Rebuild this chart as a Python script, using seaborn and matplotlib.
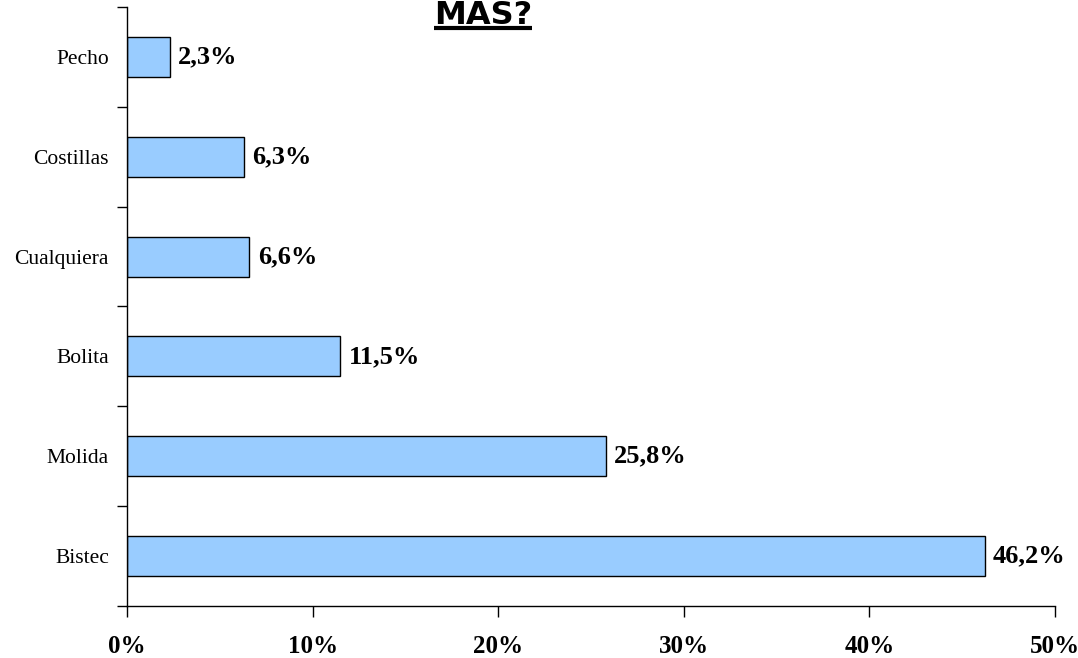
import numpy as np
import pandas as pd
import matplotlib
matplotlib.use('Agg')
import matplotlib.pyplot as plt
from matplotlib.lines import Line2D
from matplotlib.ticker import FixedLocator, FuncFormatter
import seaborn as sns

# values
categories = ["Pecho", "Costillas", "Cualquiera", "Bolita", "Molida", "Bistec"]
percentages = [2.3, 6.3, 6.6, 11.5, 25.8, 46.2]
x_ticks = [0, 10, 20, 30, 40, 50]

df = pd.DataFrame({"corte": categories, "pct": percentages})

sns.set_style("ticks")
plt.rcParams['font.family'] = ['Liberation Serif', 'DejaVu Serif']
plt.rcParams['text.color'] = 'black'
plt.rcParams['xtick.color'] = 'black'
plt.rcParams['ytick.color'] = 'black'

fig = plt.figure(figsize=(10.78, 6.58), dpi=100)
ax = fig.add_axes([0.1178, 0.079, 0.8609, 0.9105])

sns.barplot(data=df, x="pct", y="corte", order=categories, orient="h",
            color="#99CCFF", saturation=1, width=0.4,
            edgecolor="black", linewidth=1, ax=ax)

labels = [f"{v:.1f}".replace(".", ",") + "%" for v in percentages]
ax.bar_label(ax.containers[0], labels=labels, padding=6,
             fontsize=19, fontweight="bold", color="black")

ax.set_xlim(0, 50)
ax.set_ylim(len(categories) - 0.5, -0.5)
ax.xaxis.set_major_locator(FixedLocator(x_ticks))
ax.xaxis.set_major_formatter(FuncFormatter(lambda v, p: f"{v:.0f}%"))
ax.tick_params(axis="x", direction="out", length=8, width=1,
               labelsize=18, pad=13)
for t in ax.get_xticklabels():
    t.set_fontweight("bold")

ax.yaxis.set_minor_locator(FixedLocator(np.arange(-0.5, len(categories), 1.0)))
ax.tick_params(axis="y", which="major", length=0, labelsize=15.5, pad=13)
ax.tick_params(axis="y", which="minor", direction="out", length=7, width=1)

ax.set_xlabel("")
ax.set_ylabel("")
sns.despine(ax=ax)
for s in ["left", "bottom"]:
    ax.spines[s].set_color("black")
    ax.spines[s].set_linewidth(1)

title = fig.text(0.448, 1 - 24 / 658, "MAS?", ha="center", va="baseline",
                 fontsize=23, fontweight="bold", family="DejaVu Sans", color="black")

# underline the title
fig.canvas.draw()
bb = title.get_window_extent().transformed(fig.transFigure.inverted())
y_ul = 1 - 27.5 / 658
fig.add_artist(Line2D([bb.x0, bb.x1], [y_ul, y_ul], transform=fig.transFigure,
                      color="black", linewidth=3, solid_capstyle="butt"))

fig.savefig("out.png", dpi=100, facecolor="white")
